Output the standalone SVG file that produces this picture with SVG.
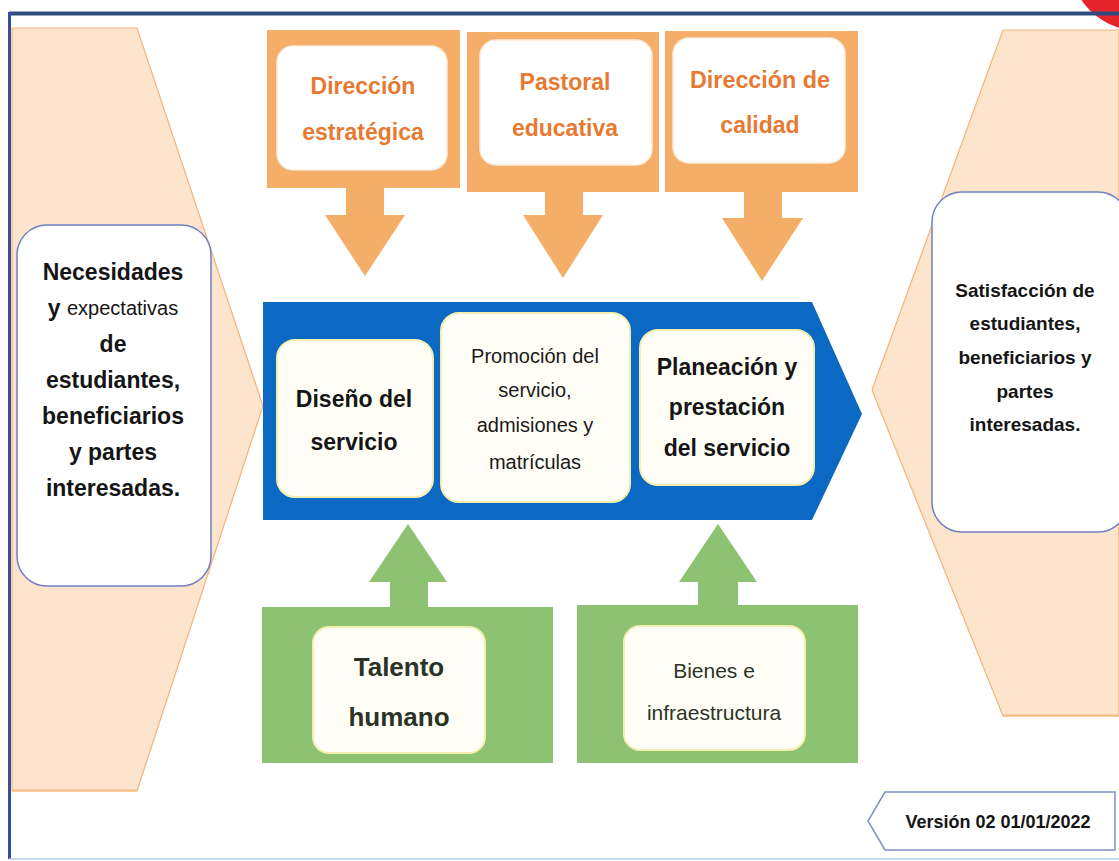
<svg xmlns="http://www.w3.org/2000/svg" width="1119" height="861" viewBox="0 0 1119 861">
  <style>
    .peach { fill: #FCE4CD; stroke: #F4B37A; stroke-width: 1.2; }
    .orange { fill: #F4AE67; }
    .green { fill: #8EC273; }
    .blue { fill: #0B68C3; }
    .wbox { fill: #FFFFFF; stroke: #6F80C2; stroke-width: 1.5; }
    .obox { fill: #FFFFFF; stroke: #FCEBDD; stroke-width: 1.5; }
    .cbox { fill: #FFFEF6; stroke: #F3EDB0; stroke-width: 2; }
    text { font-family: "Liberation Sans", Arial, sans-serif; text-anchor: middle; dominant-baseline: central; }
    .otxt { fill: #E67A32; font-weight: bold; font-size: 23px; }
    .dtxt { fill: #151515; font-weight: bold; }
    .ntxt { fill: #1A1A1A; }
    .gtxt { fill: #2B3327; }
  </style>

  <!-- frame -->
  <g id="frame">
    <rect x="0" y="0" width="1119" height="861" fill="#FFFFFF"/>
    <circle cx="1140" cy="-40" r="71" fill="#E5232B"/>
    <line x1="9" y1="13.5" x2="1119" y2="13.5" stroke="#2F4B7E" stroke-width="4"/>
    <line x1="9.5" y1="12" x2="9.5" y2="859" stroke="#3A4A9C" stroke-width="3"/>
    <line x1="9" y1="859" x2="1119" y2="859" stroke="#B7CBEA" stroke-width="1.5"/>
  </g>

  <!-- left input -->
  <g id="input">
    <polygon class="peach" points="12,28 137,28 263,406 137,791 12,791"/>
    <line x1="12" y1="790.5" x2="137" y2="790.5" stroke="#F8BE84" stroke-width="2"/>
    <rect class="wbox" x="17" y="225" width="194" height="361" rx="30"/>
    <text class="dtxt" x="113" y="272" font-size="23">Necesidades</text>
    <text class="dtxt" x="113" y="308" font-size="23">y <tspan font-weight="normal" font-size="20">expectativas</tspan></text>
    <text class="dtxt" x="113" y="344" font-size="23">de</text>
    <text class="dtxt" x="113" y="380" font-size="23">estudiantes,</text>
    <text class="dtxt" x="113" y="416" font-size="23">beneficiarios</text>
    <text class="dtxt" x="113" y="452" font-size="23">y partes</text>
    <text class="dtxt" x="113" y="488" font-size="23">interesadas.</text>
  </g>

  <!-- right output -->
  <g id="output">
    <polygon class="peach" points="1003,30 1119,30 1119,716 1003,716 872,390"/>
    <line x1="1003" y1="715.5" x2="1119" y2="715.5" stroke="#F8BE84" stroke-width="2"/>
    <rect class="wbox" x="932" y="192" width="196" height="340" rx="30"/>
    <text class="dtxt" x="1025" y="290" font-size="19">Satisfacción de</text>
    <text class="dtxt" x="1025" y="323" font-size="19">estudiantes,</text>
    <text class="dtxt" x="1025" y="357" font-size="19">beneficiarios y</text>
    <text class="dtxt" x="1025" y="391" font-size="19">partes</text>
    <text class="dtxt" x="1025" y="424" font-size="19">interesadas.</text>
  </g>

  <!-- top strategic processes -->
  <g id="direccion-estrategica">
    <rect class="orange" x="267" y="30" width="193" height="158"/>
    <rect class="obox" x="277" y="46" width="170" height="124" rx="16"/>
    <text class="otxt" x="363" y="86">Dirección</text>
    <text class="otxt" x="363" y="132">estratégica</text>
  </g>
  <g id="pastoral-educativa">
    <rect class="orange" x="467" y="32" width="192" height="160"/>
    <rect class="obox" x="480" y="40" width="172" height="125" rx="16"/>
    <text class="otxt" x="565" y="82">Pastoral</text>
    <text class="otxt" x="565" y="128">educativa</text>
  </g>
  <g id="direccion-calidad">
    <rect class="orange" x="665" y="31" width="193" height="161"/>
    <rect class="obox" x="673" y="38" width="172" height="125" rx="16"/>
    <text class="otxt" x="760" y="80" textLength="140" lengthAdjust="spacingAndGlyphs">Dirección de</text>
    <text class="otxt" x="760" y="125">calidad</text>
  </g>

  <!-- main value chain -->
  <g id="cadena">
    <polygon class="blue" points="263,302 812,302 862,414 812,520 263,520"/>
  </g>
  <g id="diseno">
    <rect class="cbox" x="277" y="340" width="156" height="157" rx="18"/>
    <text class="dtxt" x="354" y="399" font-size="23">Diseño del</text>
    <text class="dtxt" x="354" y="442" font-size="23">servicio</text>
  </g>
  <g id="promocion">
    <rect class="cbox" x="441" y="313" width="189" height="189" rx="18"/>
    <text class="ntxt" x="535" y="356" font-size="20">Promoción del</text>
    <text class="ntxt" x="535" y="390" font-size="20">servicio,</text>
    <text class="ntxt" x="535" y="425" font-size="20">admisiones y</text>
    <text class="ntxt" x="535" y="462" font-size="20">matrículas</text>
  </g>
  <g id="planeacion">
    <rect class="cbox" x="640" y="330" width="174" height="155" rx="18"/>
    <text class="dtxt" x="727" y="367" font-size="23">Planeación y</text>
    <text class="dtxt" x="727" y="407" font-size="23">prestación</text>
    <text class="dtxt" x="727" y="448" font-size="23">del servicio</text>
  </g>

  <!-- support processes -->
  <g id="talento-humano">
    <rect class="green" x="262" y="607" width="291" height="156"/>
    <rect class="cbox" x="313" y="627" width="172" height="126" rx="16"/>
    <text class="dtxt gtxt" x="399" y="667" font-size="26">Talento</text>
    <text class="dtxt gtxt" x="399" y="717" font-size="26">humano</text>
  </g>
  <g id="bienes">
    <rect class="green" x="577" y="605" width="281" height="158"/>
    <rect class="cbox" x="624" y="626" width="181" height="124" rx="16"/>
    <text class="gtxt" x="714" y="670" font-size="21">Bienes  e</text>
    <text class="gtxt" x="714" y="712" font-size="21">infraestructura</text>
  </g>

  <!-- connectors (block arrows) -->
  <g id="connectors">
    <polygon class="orange" points="346,187 384,187 384,215 405,215 365,276 325,215 346,215"/>
    <polygon class="orange" points="545,191 583,191 583,215 603,215 563,278 523,215 545,215"/>
    <polygon class="orange" points="744,191 782,191 782,218 803,218 762,281 722,218 744,218"/>
    <polygon class="green" points="390,608 428,608 428,582 447,582 408,524 369,582 390,582"/>
    <polygon class="green" points="698,606 738,606 738,582 757,582 718,524 679,582 698,582"/>
  </g>

  <!-- version tag -->
  <g id="version">
    <polygon points="885,792 1115,792 1115,850 885,850 868,821" fill="#FFFFFF" stroke="#7F90C4" stroke-width="1.5"/>
    <text class="dtxt" x="998" y="822" font-size="18" fill="#222">Versión 02 01/01/2022</text>
  </g>
</svg>
